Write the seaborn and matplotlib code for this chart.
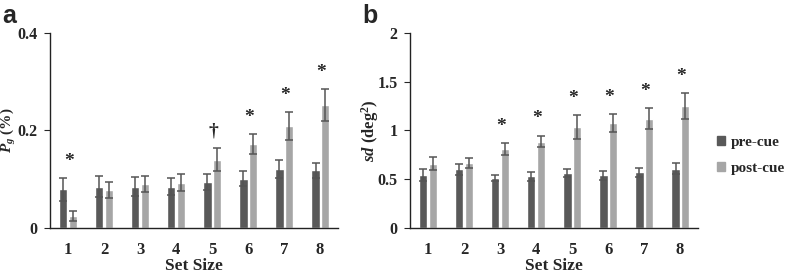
import matplotlib
matplotlib.use("Agg")
import matplotlib.pyplot as plt
import numpy as np
import pandas as pd
import seaborn as sns

set_sizes = ["1", "2", "3", "4", "5", "6", "7", "8"]
conditions = ["pre-cue", "post-cue"]

pg_pre = [0.079, 0.085, 0.085, 0.085, 0.094, 0.101, 0.121, 0.118]
pg_pre_err = [0.024, 0.022, 0.019, 0.017, 0.016, 0.015, 0.018, 0.016]
pg_post = [0.025, 0.078, 0.090, 0.093, 0.140, 0.172, 0.209, 0.252]
pg_post_err = [0.010, 0.017, 0.016, 0.018, 0.024, 0.021, 0.029, 0.033]
pg_marks = ["*", "", "", "", "\u2020", "*", "*", "*"]

sd_pre = [0.54, 0.60, 0.51, 0.53, 0.56, 0.54, 0.57, 0.61]
sd_pre_err = [0.06, 0.055, 0.03, 0.045, 0.04, 0.045, 0.05, 0.06]
sd_post = [0.66, 0.665, 0.81, 0.887, 1.034, 1.079, 1.123, 1.253]
sd_post_err = [0.07, 0.05, 0.06, 0.06, 0.12, 0.09, 0.105, 0.135]
sd_marks = ["", "", "*", "*", "*", "*", "*", "*"]

colors = ["#595959", "#a6a6a6"]
err_color = "#555555"

sns.set_style("ticks")
plt.rcParams["font.family"] = ["Liberation Serif", "DejaVu Serif"]
plt.rcParams["font.weight"] = "bold"
plt.rcParams["mathtext.fontset"] = "custom"
plt.rcParams["mathtext.rm"] = "Liberation Serif:bold"
plt.rcParams["mathtext.it"] = "Liberation Serif:italic:bold"


def draw_panel(ax, pre, pre_err, post, post_err, marks, ylim, yticks, yticklabels,
               ylabel, ylabel_x, ylabel_size):
    df = pd.DataFrame({
        "set": set_sizes * 2,
        "cond": [conditions[0]] * 8 + [conditions[1]] * 8,
        "value": pre + post,
    })
    sns.barplot(data=df, x="set", y="value", hue="cond", hue_order=conditions,
                palette=colors, width=0.51, gap=0.12, errorbar=None,
                legend=False, ax=ax, saturation=1)
    tops = np.zeros(8)
    for cont, vals, errs in zip(ax.containers, [pre, post], [pre_err, post_err]):
        xs = [b.get_x() + b.get_width() / 2 for b in cont]
        ax.errorbar(xs, vals, yerr=errs, fmt="none", ecolor=err_color,
                    elinewidth=1.1, capsize=3, capthick=1.1)
        tops = np.maximum(tops, np.array(vals) + np.array(errs))
    for i, m in enumerate(marks):
        if m:
            ax.annotate(m, (i, tops[i]), xytext=(1, 12), textcoords="offset points",
                        ha="center", va="center", fontsize=14, fontweight="bold")
    ax.set_xlim(-0.5, 7.5)
    ax.set_ylim(*ylim)
    ax.set_yticks(yticks)
    ax.set_yticklabels(yticklabels)
    ax.tick_params(axis="x", length=0, labelsize=12, pad=10)
    ax.tick_params(axis="y", length=4, labelsize=11.5, width=0.8, pad=5)
    ax.set_xlabel("Set Size", fontsize=12.5, fontweight="bold")
    ax.xaxis.set_label_coords(0.5, -0.155)
    ax.set_ylabel(ylabel, fontsize=ylabel_size, fontweight="bold")
    ax.yaxis.set_label_coords(ylabel_x, 0.5)
    for s in ["top", "right"]:
        ax.spines[s].set_visible(False)
    for s in ["left", "bottom"]:
        ax.spines[s].set_linewidth(1.0)
        ax.spines[s].set_color("#222222")


fig = plt.figure(figsize=(7.85, 2.73), dpi=100)
ax1 = fig.add_axes([0.0637, 0.165, 0.367, 0.714])
ax2 = fig.add_axes([0.5223, 0.165, 0.367, 0.714])

draw_panel(ax1, pg_pre, pg_pre_err, pg_post, pg_post_err, pg_marks,
           (0, 0.4), [0, 0.2, 0.4], ["0", "0.2", "0.4"], r"$P_g$ (%)", -0.112, 11)
draw_panel(ax2, sd_pre, sd_pre_err, sd_post, sd_post_err, sd_marks,
           (0, 2), [0, 0.5, 1, 1.5, 2], ["0", "0.5", "1", "1.5", "2"],
           r"$sd$ (deg$^2$)", -0.10, 12)

handles = [plt.Rectangle((0, 0), 1, 1, color=c) for c in colors]
fig.legend(handles, conditions, loc="center left", bbox_to_anchor=(0.914, 0.43),
           frameon=False, fontsize=11, handlelength=0.5, handleheight=0.5,
           handletextpad=0.35, labelspacing=0.85, borderpad=0, borderaxespad=0)

fig.text(0.003, 0.985, "a", fontsize=18, fontweight="bold", family="Liberation Sans", va="top")
fig.text(0.461, 0.985, "b", fontsize=18, fontweight="bold", family="Liberation Sans", va="top")

fig.savefig("out.png", dpi=100)
